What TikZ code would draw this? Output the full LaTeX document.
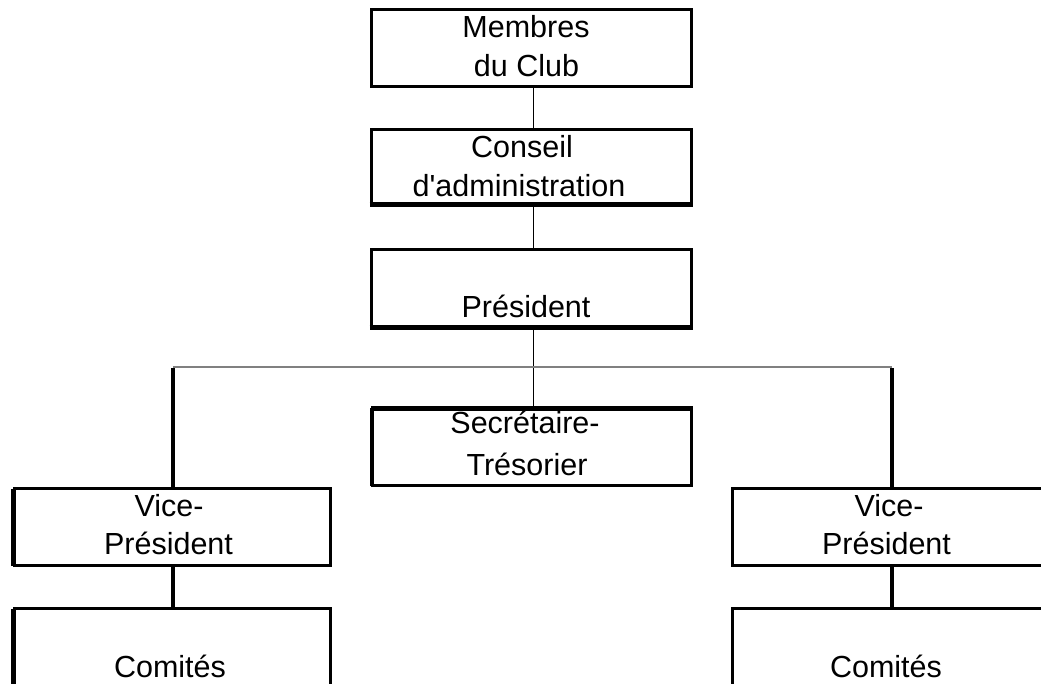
\documentclass[tikz,border=0pt]{standalone}
\usepackage{fontspec}
\setmainfont{Liberation Sans}
\begin{document}
\begin{tikzpicture}[x=1pt,y=-1pt,
  box/.style={draw=black, line width=3pt, rectangle, outer sep=0pt, inner sep=0pt},
  txt/.style={anchor=base, inner sep=0pt, font=\fontsize{30.5}{38}\selectfont},
  thinline/.style={draw=black, line width=1pt},
  grayline/.style={draw=black!50, line width=1.2pt},
  thickline/.style={draw=black, line width=4pt},
  leftbar/.style={draw=black, line width=4pt}]
\useasboundingbox (0,0) rectangle (1041,684);
\clip (0,0) rectangle (1041,684);
% boxes
\node[box, minimum width=320pt, minimum height=77pt] (m) at (531.5,48) {};
\node[box, minimum width=320pt, minimum height=76pt] (c) at (531.5,167.5) {};
\node[box, minimum width=320pt, minimum height=79pt] (p) at (531.5,289) {};
\node[box, minimum width=319pt, minimum height=78pt] (s) at (532,446.5) {};
\node[box, minimum width=316pt, minimum height=77pt] (vl) at (172.5,527) {};
\node[box, minimum width=316pt, minimum height=110pt] (cl) at (172.5,663.5) {};
\node[box, minimum width=316pt, minimum height=77pt] (vr) at (890,527) {};
\node[box, minimum width=316pt, minimum height=110pt] (cr) at (890,663.5) {};
% shadows / heavier edges
\draw[leftbar] ([xshift=-1pt]s.north west) -- ([xshift=-1pt]s.south west);
\draw[leftbar] ([yshift=-1pt]s.north west) -- ([yshift=-1pt]s.north east);
\draw[leftbar] ([xshift=-1.5pt]vl.north west) -- ([xshift=-1.5pt]vl.south west);
\draw[leftbar] ([xshift=-1.5pt]cl.north west) -- ([xshift=-1.5pt]cl.south west);
\draw[line width=1.5pt] ([xshift=-2pt,yshift=2.5pt]c.south west) -- ([yshift=2.5pt]c.south east);
\draw[line width=1.5pt] ([xshift=-2pt,yshift=2.5pt]p.south west) -- ([yshift=2.5pt]p.south east);
% texts
\node[txt] (t1) at (526,38) {Membres};
\node[txt] (t2) at (526.5,77) {du Club};
\node[txt] (t3) at (522,158) {Conseil};
\node[txt] (t4) at (519,197) {d\textquotesingle administration};
\node[txt] (t5) at (526,318) {Président};
\node[txt] (t6) at (525,433) {Secrétaire-};
\node[txt] (t7) at (527,475) {Trésorier};
\node[txt] (t8) at (169,516) {Vice-};
\node[txt] (t9) at (168.5,554) {Président};
\node[txt] (t10) at (170,677) {Comités};
\node[txt] (t11) at (889,516) {Vice-};
\node[txt] (t12) at (886.5,554) {Président};
\node[txt] (t13) at (886,677) {Comités};
% connectors
\coordinate (hl) at (173,367);
\coordinate (hr) at (892,367);
\draw[thinline] ([xshift=1.5pt]m.south) -- ([xshift=1.5pt]c.north);
\draw[thinline] ([xshift=1.5pt]c.south) -- ([xshift=1.5pt]p.north);
\draw[thinline] ([xshift=1.5pt]p.south) -- ([xshift=1pt]s.north);
\draw[grayline] (hl) -- (hr);
\draw[thickline] ([yshift=-1pt]hl) -- (hl |- vl.north);
\draw[thickline] (hl |- vl.south) -- (hl |- cl.north);
\draw[thickline] ([yshift=-1pt]hr) -- (hr |- vr.north);
\draw[thickline] (hr |- vr.south) -- (hr |- cr.north);
\end{tikzpicture}
\end{document}
